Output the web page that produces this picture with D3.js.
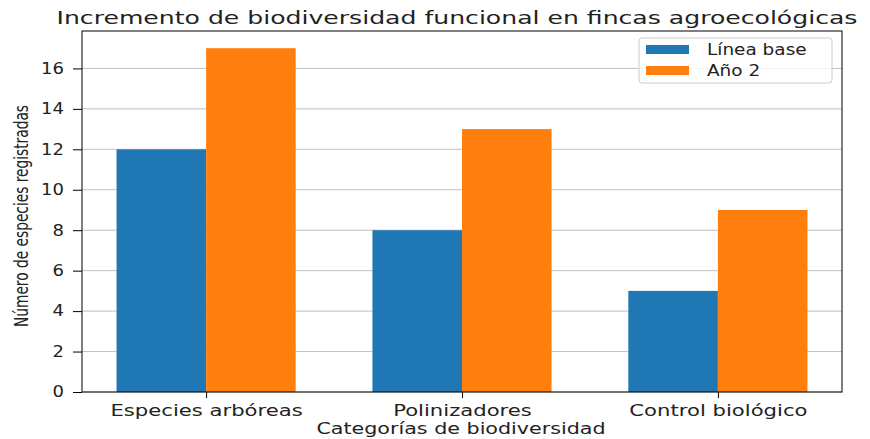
<!DOCTYPE html>
<html><head><meta charset="utf-8">
<script src="https://cdn.jsdelivr.net/npm/d3@7"></script>
<style>body{margin:0;background:#fff}svg{display:block}text{font-family:"DejaVu Sans",sans-serif;fill:#222}</style>
</head><body>
<script>
const categories = ["Especies arbóreas", "Polinizadores", "Control biológico"];
const seriesNames = ["Línea base", "Año 2"];
const baseline = [12, 8, 5];
const year2 = [17, 13, 9];
const yTicks = [0, 2, 4, 6, 8, 10, 12, 14, 16];
const colors = ["#1f77b4", "#ff7f0e"];

const W = 870, H = 439;
const m = {left: 82, right: 28, top: 31, bottom: 47};
const svg = d3.select("body").append("svg").attr("width", W).attr("height", H);

function stretch(sel, k) {
  sel.each(function () {
    const w = this.getComputedTextLength();
    d3.select(this).attr("textLength", w * k).attr("lengthAdjust", "spacingAndGlyphs");
  });
}

const x = d3.scaleLinear().domain([-0.485, 2.485]).range([m.left, W - m.right]);
const y = d3.scaleLinear().domain([0, 17.85]).range([H - m.bottom, m.top]);
const bw = 0.35;

// grid
svg.append("g").selectAll("line").data(yTicks).join("line")
  .attr("x1", m.left).attr("x2", W - m.right)
  .attr("y1", d => y(d)).attr("y2", d => y(d))
  .attr("stroke", "#b0b0b0").attr("stroke-width", 0.8);

const series = [baseline, year2];
series.forEach((vals, s) => {
  svg.append("g").selectAll("rect").data(vals).join("rect")
    .attr("x", (d, i) => x(i + (s === 0 ? -bw : 0)))
    .attr("width", x(bw) - x(0))
    .attr("y", d => y(d))
    .attr("height", d => y(0) - y(d))
    .attr("fill", colors[s]);
});

// axes
const yAxis = d3.axisLeft(y).tickValues(yTicks).tickSize(9).tickPadding(9);
const gy = svg.append("g").attr("transform", `translate(${m.left},0)`).call(yAxis);
const xAxis = d3.axisBottom(x).tickValues([0, 1, 2]).tickFormat(i => categories[i]).tickSize(6).tickPadding(7);
const gx = svg.append("g").attr("transform", `translate(0,${H - m.bottom})`).call(xAxis);
[gy, gx].forEach(g => {
  g.select(".domain").remove();
  g.selectAll("text").attr("font-size", 15).attr("font-family", "DejaVu Sans").attr("fill", "#222");
  g.selectAll("line").attr("stroke", "#000").attr("stroke-width", 1);
});
stretch(gy.selectAll("text"), 1.2);
stretch(gx.selectAll("text"), 1.41);

// frame
svg.append("rect").attr("x", m.left).attr("y", m.top)
  .attr("width", W - m.right - m.left).attr("height", H - m.bottom - m.top)
  .attr("fill", "none").attr("stroke", "#000").attr("stroke-width", 1);

const title = svg.append("text").attr("x", 457).attr("y", 24)
  .attr("text-anchor", "middle").attr("font-size", 18)
  .text("Incremento de biodiversidad funcional en fincas agroecológicas");
stretch(title, 1.395);
const xl = svg.append("text").attr("x", 461).attr("y", 434)
  .attr("text-anchor", "middle").attr("font-size", 16)
  .text("Categorías de biodiversidad");
stretch(xl, 1.29);
svg.append("text").attr("transform", `translate(28,216) rotate(-90)`)
  .attr("text-anchor", "middle").attr("font-size", 19)
  .attr("font-family", "Open Sans")
  .attr("textLength", 222).attr("lengthAdjust", "spacingAndGlyphs")
  .text("Número de especies registradas");

// legend
const lg = svg.append("g").attr("transform", "translate(639,38)");
lg.append("rect").attr("width", 193).attr("height", 45).attr("rx", 3)
  .attr("fill", "#fff").attr("fill-opacity", 0.8).attr("stroke", "#ccc");
seriesNames.forEach((n, i) => {
  lg.append("rect").attr("x", 7).attr("y", 7 + i * 21).attr("width", 43).attr("height", 9).attr("fill", colors[i]);
  const t = lg.append("text").attr("x", 68).attr("y", 17 + i * 21).attr("font-size", 15).text(n);
  stretch(t, 1.23);
});
</script>
</body></html>
